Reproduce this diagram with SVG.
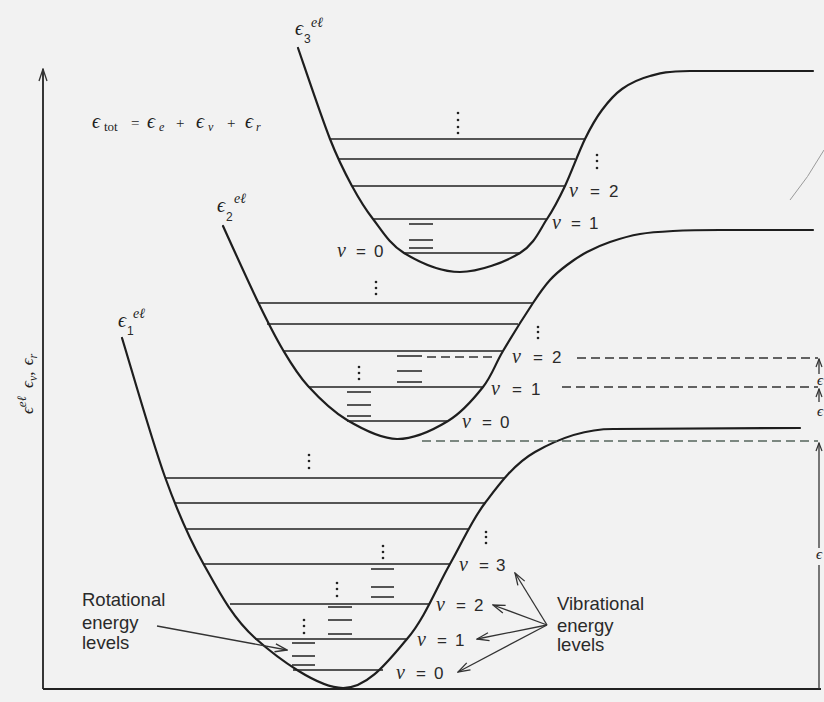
<svg xmlns="http://www.w3.org/2000/svg" width="824" height="702" viewBox="0 0 824 702">
<defs>
<style>
.bg{fill:#f2f2f2}
.crv{fill:none;stroke:#1e1e1e;stroke-width:2.2;stroke-linecap:round}
.lvl{fill:none;stroke:#222;stroke-width:1.6}
.rot{fill:none;stroke:#222;stroke-width:1.6}
.dash{fill:none;stroke:#333;stroke-width:1.4;stroke-dasharray:9 5}
.dashg{fill:none;stroke:#56665c;stroke-width:1.4;stroke-dasharray:9 5}
.ax{fill:none;stroke:#222;stroke-width:1.8}
.arr{fill:none;stroke:#333;stroke-width:1.3}
.dot{fill:#222}
.it{font-family:"Liberation Serif","DejaVu Serif",serif;font-style:italic}
.vv{font-family:"Liberation Serif","DejaVu Serif",serif;font-style:italic;font-size:20px}
.ser{font-family:"Liberation Serif","DejaVu Serif",serif;fill:#222}
.sans{font-family:"Liberation Sans","DejaVu Sans",sans-serif;fill:#2a2a2a}
</style>
<marker id="open" viewBox="0 0 14 10" refX="13" refY="5" markerWidth="14" markerHeight="10" markerUnits="userSpaceOnUse" orient="auto">
<path d="M1,1 L13,5 L1,9" fill="none" stroke="#333" stroke-width="1.3"/>
</marker>
<marker id="small" viewBox="0 0 10 8" refX="9" refY="4" markerWidth="10" markerHeight="8" markerUnits="userSpaceOnUse" orient="auto">
<path d="M1,1 L9,4 L1,7" fill="none" stroke="#333" stroke-width="1.2"/>
</marker>
</defs>
<rect class="bg" x="0" y="0" width="824" height="702"/>

<g id="axes">
<path class="ax" d="M43,689 L43,69" marker-end="url(#open)"/>
<path class="ax" d="M43,689 L821,689"/>
<text class="ser" font-size="17" transform="translate(33,414) rotate(-90)"><tspan class="it">ϵ</tspan><tspan class="it" font-size="13" dy="-7">eℓ</tspan><tspan class="it" dx="8" dy="7">ϵ</tspan><tspan class="it" font-size="12" dy="4">v</tspan><tspan dy="-4">, </tspan><tspan class="it" dx="2">ϵ</tspan><tspan class="it" font-size="12" dy="4">r</tspan></text>
</g>

<g id="formula">
<text class="ser" font-size="20" y="128"><tspan class="it" x="92">ϵ</tspan><tspan x="104" y="131" font-size="13">tot</tspan><tspan x="131" y="128" font-size="15">=</tspan><tspan class="it" x="147">ϵ</tspan><tspan class="it" x="159" y="131" font-size="12">e</tspan><tspan x="176" y="128" font-size="15">+</tspan><tspan class="it" x="196">ϵ</tspan><tspan class="it" x="208" y="131" font-size="12">v</tspan><tspan x="227" y="128" font-size="15">+</tspan><tspan class="it" x="245">ϵ</tspan><tspan class="it" x="256" y="131" font-size="12">r</tspan></text>
</g>

<g id="state3">
<path class="crv" d="M298,48 C303.3,63.2 321,116 330,139 C339,162 344.8,172.7 352,186 C359.2,199.3 364.3,207.8 373,219 C381.7,230.2 389.5,244.2 404,253 C418.5,261.8 440.7,272 460,272 C479.3,272 505.5,261.8 520,253 C534.5,244.2 539.5,230.2 547,219 C554.5,207.8 558.7,199.3 565,186 C571.3,172.7 578.8,151.7 585,139 C591.2,126.3 595.8,118.3 602,110 C608.2,101.7 614,94.7 622,89 C630,83.3 638.7,79 650,76 C661.3,73 662.8,71.8 690,71 L813,71"/>
<path class="lvl" d="M330,139 H585 M339,159 H575 M352,186 H565 M373,219 H547 M404,253 H520"/>
<path class="rot" d="M409,224 H433 M409,240 H433 M409,248 H433"/>
<g class="dot"><circle cx="458" cy="113" r="1.3"/><circle cx="458" cy="120" r="1.3"/><circle cx="458" cy="127" r="1.3"/><circle cx="458" cy="133" r="1.3"/>
<circle cx="597" cy="155" r="1.3"/><circle cx="597" cy="161" r="1.3"/><circle cx="597" cy="168" r="1.3"/></g>
<text class="ser" font-size="20" x="295" y="35"><tspan class="it">ϵ</tspan></text>
<text class="sans" font-size="12" x="304" y="43">3</text>
<text class="it" font-size="14" fill="#222" x="311" y="27">eℓ</text>
<text class="sans" font-size="17" y="257"><tspan class="vv" x="337">v</tspan><tspan x="356">=</tspan><tspan x="374">0</tspan></text>
<text class="sans" font-size="17" y="229"><tspan class="vv" x="552">v</tspan><tspan x="571">=</tspan><tspan x="589">1</tspan></text>
<text class="sans" font-size="17" y="197"><tspan class="vv" x="569">v</tspan><tspan x="590">=</tspan><tspan x="609">2</tspan></text>
</g>

<g id="state2">
<path class="crv" d="M223,226 C228.8,238.7 248,281.3 258,302 C268,322.7 274.7,336 283,350 C291.3,364 297.3,374.3 308,386 C318.7,397.7 332.2,411.2 347,420 C361.8,428.8 380.2,438.8 397,439 C413.8,439.2 433.7,429.7 448,421 C462.3,412.3 473.8,398.7 483,387 C492.2,375.3 494.7,365 503,351 C511.3,337 525.2,314.8 533,303 C540.8,291.2 544.3,286.3 550,280 C555.7,273.7 560.8,269.7 567,265 C573.2,260.3 579.8,255.8 587,252 C594.2,248.2 601.2,245 610,242 C618.8,239 629.5,235.8 640,234 C650.5,232.2 659.7,231.7 673,231 C686.3,230.3 704.5,230 720,230 L813,230"/>
<path class="lvl" d="M258,303 H533 M267,324 H518 M283,351 H503 M308,387 H483 M347,421 H448"/>
<path class="rot" d="M347,392 H371 M347,405 H371 M347,416 H371 M397,356 H422 M397,371 H422 M397,382 H422"/>
<g class="dot"><circle cx="376" cy="282" r="1.3"/><circle cx="376" cy="288" r="1.3"/><circle cx="376" cy="294" r="1.3"/>
<circle cx="538" cy="327" r="1.3"/><circle cx="538" cy="332" r="1.3"/><circle cx="538" cy="338" r="1.3"/>
<circle cx="359" cy="367" r="1.3"/><circle cx="359" cy="373" r="1.3"/><circle cx="359" cy="379" r="1.3"/></g>
<text class="ser" font-size="20" x="217" y="212"><tspan class="it">ϵ</tspan></text>
<text class="sans" font-size="12" x="226" y="221">2</text>
<text class="it" font-size="14" fill="#222" x="234" y="203">eℓ</text>
<text class="sans" font-size="17" y="363"><tspan class="vv" x="512">v</tspan><tspan x="533">=</tspan><tspan x="552">2</tspan></text>
<text class="sans" font-size="17" y="395"><tspan class="vv" x="491">v</tspan><tspan x="512">=</tspan><tspan x="531">1</tspan></text>
<text class="sans" font-size="17" y="428"><tspan class="vv" x="462">v</tspan><tspan x="482">=</tspan><tspan x="500">0</tspan></text>
</g>

<g id="state1">
<path class="crv" d="M122,338 C129.2,361.2 151.5,439.5 165,477 C178.5,514.5 188,536.2 203,563 C218,589.8 231.7,617.2 255,638 C278.3,658.8 317.7,687.8 343,688 C368.3,688.2 389.2,659.7 407,639 C424.8,618.3 437,586.7 450,564 C463,541.3 470.8,521.7 485,503 C499.2,484.3 513.7,464.2 535,452 C556.3,439.8 585,429 613,429 L800,428"/>
<path class="lvl" d="M165,478 H504 M175,503 H485 M187,529 H469 M203,564 H450 M230,604 H430 M255,639 H407 M293,670 H383"/>
<path class="rot" d="M292,643 H315 M292,656 H315 M292,665 H315 M328,607 H352 M328,620 H352 M328,634 H352 M371,569 H394 M371,587 H394 M371,597 H394"/>
<g class="dot"><circle cx="309" cy="455" r="1.3"/><circle cx="309" cy="461" r="1.3"/><circle cx="309" cy="468" r="1.3"/>
<circle cx="486" cy="532" r="1.3"/><circle cx="486" cy="537" r="1.3"/><circle cx="486" cy="543" r="1.3"/>
<circle cx="383" cy="546" r="1.3"/><circle cx="383" cy="552" r="1.3"/><circle cx="383" cy="558" r="1.3"/>
<circle cx="337" cy="583" r="1.3"/><circle cx="337" cy="589" r="1.3"/><circle cx="337" cy="596" r="1.3"/>
<circle cx="304" cy="620" r="1.3"/><circle cx="304" cy="626" r="1.3"/><circle cx="304" cy="633" r="1.3"/></g>
<text class="ser" font-size="20" x="118" y="327"><tspan class="it">ϵ</tspan></text>
<text class="sans" font-size="12" x="127" y="335">1</text>
<text class="it" font-size="14" fill="#222" x="133" y="318">eℓ</text>
<text class="sans" font-size="17" y="571"><tspan class="vv" x="459">v</tspan><tspan x="479">=</tspan><tspan x="496">3</tspan></text>
<text class="sans" font-size="17" y="611"><tspan class="vv" x="436">v</tspan><tspan x="456">=</tspan><tspan x="474">2</tspan></text>
<text class="sans" font-size="17" y="646"><tspan class="vv" x="417">v</tspan><tspan x="437">=</tspan><tspan x="455">1</tspan></text>
<text class="sans" font-size="17" y="679"><tspan class="vv" x="396">v</tspan><tspan x="416">=</tspan><tspan x="434">0</tspan></text>
</g>

<g id="partial-curve">
<path d="M790,200 Q808,178 824,150" fill="none" stroke="#9a9a9a" stroke-width="1"/>
</g>

<g id="energy-gaps">
<path class="dash" d="M427,357 H492 M577,358 H818"/>
<path class="dash" d="M562,387 H818"/>
<path class="dashg" d="M422,441 H818"/>
<path class="arr" d="M819,374 V359" marker-end="url(#small)"/>
<path class="arr" d="M819,402 V389" marker-end="url(#small)"/>
<path class="arr" d="M819,548 V443" marker-end="url(#small)"/>
<path class="arr" d="M819,565 V689"/>
<text class="ser it" font-size="15" x="817" y="385">ϵ</text>
<text class="ser it" font-size="15" x="817" y="416">ϵ</text>
<text class="ser it" font-size="15" x="816" y="559">ϵ</text>
</g>

<g id="rot-label">
<text class="sans" font-size="18.5"><tspan x="82" y="606">Rotational</tspan><tspan x="82" y="629">energy</tspan><tspan x="82" y="649">levels</tspan></text>
</g>
<g id="vib-label">
<text class="sans" font-size="18.5"><tspan x="557" y="610">Vibrational</tspan><tspan x="557" y="632">energy</tspan><tspan x="557" y="651">levels</tspan></text>
</g>

<g id="connectors">
<path class="arr" d="M157,626 L287,650" marker-end="url(#open)"/>
<path class="arr" d="M547,625 L515,573" marker-end="url(#open)"/>
<path class="arr" d="M547,625 L493,605" marker-end="url(#open)"/>
<path class="arr" d="M547,625 L477,639" marker-end="url(#open)"/>
<path class="arr" d="M547,625 L458,672" marker-end="url(#open)"/>
</g>
</svg>
